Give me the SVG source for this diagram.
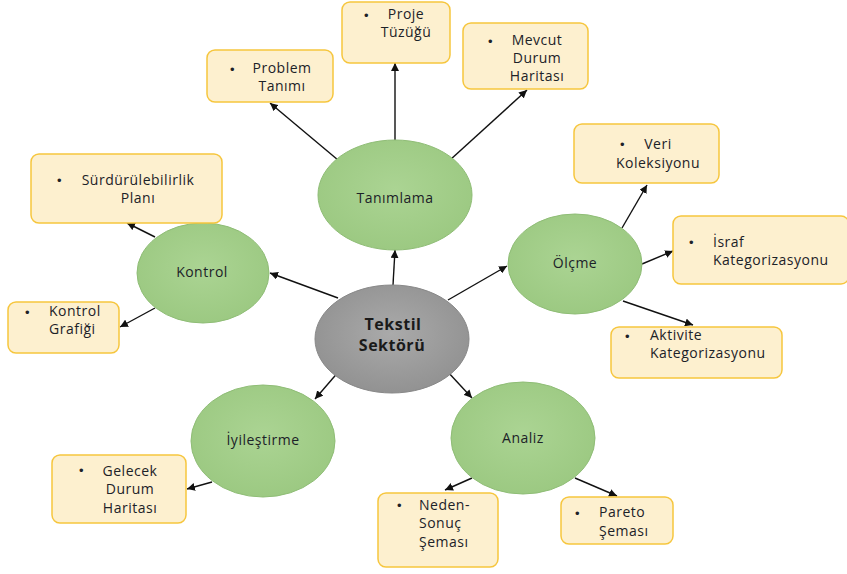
<svg xmlns="http://www.w3.org/2000/svg" width="847" height="574" viewBox="0 0 847 574">
<defs>
<marker id="ah" viewBox="0 0 10 10" refX="10" refY="5" markerWidth="8" markerHeight="8" markerUnits="userSpaceOnUse" orient="auto">
<path d="M0,0 L10,5 L0,10 z" fill="#111"/>
</marker>
<radialGradient id="gg" cx="50%" cy="45%" r="55%">
<stop offset="0" stop-color="#abd493"/>
<stop offset="1" stop-color="#9cc982"/>
</radialGradient>
<radialGradient id="gr" cx="50%" cy="45%" r="55%">
<stop offset="0" stop-color="#aaaaaa"/>
<stop offset="1" stop-color="#929292"/>
</radialGradient>
</defs>
<style>
.box{fill:#fdf0cf;stroke:#f6c63e;stroke-width:1.5}
.ell{fill:url(#gg);stroke:#8fbd76;stroke-width:1}
.t{font-family:"Open Sans","Liberation Sans",sans-serif;font-size:14px;fill:#1c2228;letter-spacing:0.5px}
.c{text-anchor:middle}
.b{font-family:"Liberation Sans",sans-serif;font-size:13px;fill:#1c2228}
.main{font-family:"Open Sans","Liberation Sans",sans-serif;font-size:16px;font-weight:bold;fill:#1a1a1a;text-anchor:middle;letter-spacing:0.5px}
.conn line{stroke:#111;stroke-width:1.4;marker-end:url(#ah)}
</style>
<rect width="847" height="574" fill="#ffffff"/>
<g class="conn" id="connectors">
<line x1="393" y1="285" x2="395" y2="250"/>
<line x1="448" y1="300" x2="507" y2="266"/>
<line x1="338" y1="298" x2="270" y2="273"/>
<line x1="340" y1="370" x2="315" y2="399"/>
<line x1="447" y1="371" x2="472" y2="398"/>
<line x1="338" y1="160" x2="270" y2="103"/>
<line x1="395" y1="141" x2="395" y2="63"/>
<line x1="450" y1="160" x2="527" y2="90"/>
<line x1="155" y1="237" x2="127" y2="223"/>
<line x1="155" y1="308" x2="120" y2="327"/>
<line x1="622" y1="228" x2="647" y2="185"/>
<line x1="642" y1="264" x2="673" y2="251"/>
<line x1="623" y1="301" x2="693" y2="325"/>
<line x1="212" y1="482" x2="187" y2="489"/>
<line x1="472" y1="478" x2="445" y2="490"/>
<line x1="575" y1="478" x2="617" y2="496"/>
</g>
<g id="tekstil">
<ellipse cx="392" cy="339" rx="77" ry="54" fill="url(#gr)" stroke="#888" stroke-width="1"/>
<text class="main" x="393" y="330">Tekstil</text>
<text class="main" x="392" y="351">Sektörü</text>
</g>
<g id="tanimlama">
<ellipse class="ell" cx="395" cy="195" rx="77" ry="55"/>
<text class="t c" x="395" y="203">Tanımlama</text>
</g>
<g id="kontrol">
<ellipse class="ell" cx="203" cy="273" rx="66" ry="50"/>
<text class="t c" x="202" y="277">Kontrol</text>
</g>
<g id="olcme">
<ellipse class="ell" cx="575" cy="264" rx="67" ry="50"/>
<text class="t c" x="575" y="268">Ölçme</text>
</g>
<g id="iyilestirme">
<ellipse class="ell" cx="263" cy="441" rx="72" ry="56"/>
<text class="t c" x="263" y="445">İyileştirme</text>
</g>
<g id="analiz">
<ellipse class="ell" cx="523" cy="438" rx="72" ry="56"/>
<text class="t c" x="523" y="443">Analiz</text>
</g>
<g id="proje">
<rect class="box" x="342" y="2" width="108" height="61" rx="8"/>
<text class="b" x="364" y="20">•</text>
<text class="t c" x="406" y="19">Proje</text>
<text class="t c" x="406" y="37">Tüzüğü</text>
</g>
<g id="problem">
<rect class="box" x="207" y="50" width="126" height="52" rx="8"/>
<text class="b" x="230" y="74">•</text>
<text class="t c" x="282" y="73">Problem</text>
<text class="t c" x="282" y="91">Tanımı</text>
</g>
<g id="mevcut">
<rect class="box" x="463" y="23" width="125" height="66" rx="8"/>
<text class="b" x="488" y="46">•</text>
<text class="t c" x="537" y="45">Mevcut</text>
<text class="t c" x="537" y="63">Durum</text>
<text class="t c" x="537" y="81">Haritası</text>
</g>
<g id="surdurulebilirlik">
<rect class="box" x="31" y="154" width="191" height="69" rx="8"/>
<text class="b" x="57" y="185">•</text>
<text class="t c" x="138" y="185">Sürdürülebilirlik</text>
<text class="t c" x="138" y="203">Planı</text>
</g>
<g id="kontrolgrafigi">
<rect class="box" x="8" y="302" width="111" height="51" rx="8"/>
<text class="b" x="25" y="317">•</text>
<text class="t" x="49" y="316">Kontrol</text>
<text class="t" x="49" y="334">Grafiği</text>
</g>
<g id="veri">
<rect class="box" x="574" y="124" width="145" height="59" rx="8"/>
<text class="b" x="620" y="149">•</text>
<text class="t c" x="658" y="149">Veri</text>
<text class="t c" x="658" y="168">Koleksiyonu</text>
</g>
<g id="israf">
<rect class="box" x="673" y="216" width="176" height="68" rx="8"/>
<text class="b" x="689" y="247">•</text>
<text class="t" x="713" y="247">İsraf</text>
<text class="t" x="713" y="265">Kategorizasyonu</text>
</g>
<g id="aktivite">
<rect class="box" x="611" y="327" width="171" height="51" rx="8"/>
<text class="b" x="625" y="341">•</text>
<text class="t" x="650" y="340">Aktivite</text>
<text class="t" x="650" y="358">Kategorizasyonu</text>
</g>
<g id="gelecek">
<rect class="box" x="52" y="455" width="134" height="68" rx="8"/>
<text class="b" x="79" y="475">•</text>
<text class="t c" x="130" y="476">Gelecek</text>
<text class="t c" x="130" y="494">Durum</text>
<text class="t c" x="130" y="513">Haritası</text>
</g>
<g id="neden">
<rect class="box" x="378" y="493" width="120" height="74" rx="8"/>
<text class="b" x="397" y="510">•</text>
<text class="t" x="419" y="510">Neden-</text>
<text class="t" x="419" y="528">Sonuç</text>
<text class="t" x="419" y="547">Şeması</text>
</g>
<g id="pareto">
<rect class="box" x="561" y="497" width="112" height="47" rx="8"/>
<text class="b" x="575" y="518">•</text>
<text class="t" x="599" y="517">Pareto</text>
<text class="t" x="599" y="536">Şeması</text>
</g>
</svg>
